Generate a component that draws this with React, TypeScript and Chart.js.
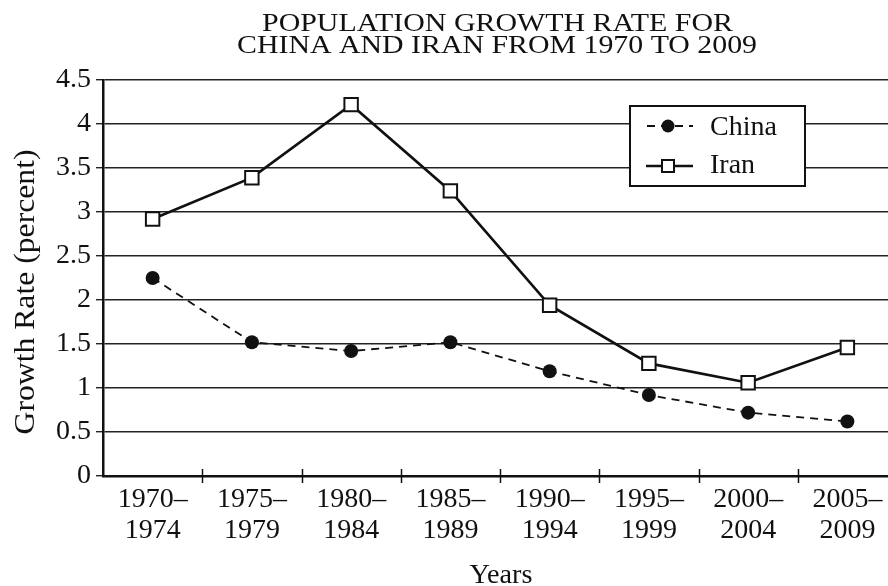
import React, { useEffect, useRef } from "react";
import { Chart, registerables } from "chart.js";

Chart.register(...registerables);

const TITLE_LINES = ["POPULATION GROWTH RATE FOR", "CHINA AND IRAN FROM 1970 TO 2009"];
const CATEGORIES = [
  ["1970–", "1974"],
  ["1975–", "1979"],
  ["1980–", "1984"],
  ["1985–", "1989"],
  ["1990–", "1994"],
  ["1995–", "1999"],
  ["2000–", "2004"],
  ["2005–", "2009"],
];
const SERIES_NAMES = ["China", "Iran"];
const CHINA = [2.25, 1.52, 1.42, 1.52, 1.19, 0.92, 0.72, 0.62];
const IRAN = [2.92, 3.39, 4.22, 3.24, 1.94, 1.28, 1.06, 1.46];
const Y_TICKS = ["0", "0.5", "1", "1.5", "2", "2.5", "3", "3.5", "4", "4.5"];
const Y_TITLE = "Growth Rate (percent)";
const X_TITLE = "Years";

const FONT = "'Liberation Serif', 'DejaVu Serif', serif";

function drawFitText(
  ctx: CanvasRenderingContext2D,
  text: string,
  x: number,
  y: number,
  size: number,
  width: number,
  rotate = 0
) {
  ctx.save();
  ctx.font = `${size}px ${FONT}`;
  ctx.fillStyle = "#111";
  ctx.textAlign = "center";
  ctx.textBaseline = "alphabetic";
  const w = ctx.measureText(text).width;
  ctx.translate(x, y);
  if (rotate) ctx.rotate(rotate);
  ctx.scale(width / w, 1);
  ctx.fillText(text, 0, 0);
  ctx.restore();
}

const decorPlugin = {
  id: "decor",
  afterDraw(chart: any) {
    const ctx: CanvasRenderingContext2D = chart.ctx;
    const { left, right, bottom } = chart.chartArea;
    // titles
    drawFitText(ctx, TITLE_LINES[0], 497.5, 31, 26, 471);
    drawFitText(ctx, TITLE_LINES[1], 497, 53, 26, 520);
    drawFitText(ctx, Y_TITLE, 34, 292, 29, 285, -Math.PI / 2);
    drawFitText(ctx, X_TITLE, 501, 583, 27, 63);

    // crossing tick marks on x axis
    ctx.save();
    ctx.strokeStyle = "#111";
    ctx.lineWidth = 1.5;
    const n = CATEGORIES.length;
    const step = (right - left) / n;
    for (let i = 1; i < n; i++) {
      const x = Math.round(left + i * step) + 0.5;
      ctx.beginPath();
      ctx.moveTo(x, bottom - 7);
      ctx.lineTo(x, bottom + 7);
      ctx.stroke();
    }
    ctx.restore();

    // legend box
    const bx = 630, by = 106, bw = 175, bh = 80;
    ctx.save();
    ctx.fillStyle = "#fff";
    ctx.fillRect(bx, by, bw, bh);
    ctx.strokeStyle = "#111";
    ctx.lineWidth = 2;
    ctx.strokeRect(bx, by, bw, bh);

    // China sample
    ctx.lineWidth = 1.8;
    ctx.setLineDash([8, 6]);
    ctx.beginPath();
    ctx.moveTo(647, 126);
    ctx.lineTo(693, 126);
    ctx.stroke();
    ctx.setLineDash([]);
    ctx.fillStyle = "#111";
    ctx.beginPath();
    ctx.arc(668, 126, 6.5, 0, Math.PI * 2);
    ctx.fill();

    // Iran sample
    ctx.lineWidth = 2.6;
    ctx.beginPath();
    ctx.moveTo(646, 166);
    ctx.lineTo(693, 166);
    ctx.stroke();
    ctx.fillStyle = "#fff";
    ctx.fillRect(662, 160, 12, 12);
    ctx.lineWidth = 2;
    ctx.strokeRect(662, 160, 12, 12);

    ctx.fillStyle = "#111";
    ctx.font = `28px ${FONT}`;
    ctx.textAlign = "left";
    ctx.textBaseline = "alphabetic";
    ctx.fillText(SERIES_NAMES[0], 710, 135);
    ctx.fillText(SERIES_NAMES[1], 710, 173);
    ctx.restore();
  },
};

export default function App() {
  const ref = useRef<HTMLCanvasElement>(null);

  useEffect(() => {
    if (!ref.current) return;
    const chart = new Chart(ref.current, {
      type: "line",
      data: {
        labels: CATEGORIES as any,
        datasets: [
          {
            label: SERIES_NAMES[0],
            data: CHINA,
            borderColor: "#111",
            borderWidth: 1.8,
            borderDash: [8, 6],
            pointStyle: "circle",
            pointRadius: 7,
            pointBackgroundColor: "#111",
            pointBorderColor: "#111",
            pointBorderWidth: 0,
            tension: 0,
          },
          {
            label: SERIES_NAMES[1],
            data: IRAN,
            borderColor: "#111",
            borderWidth: 2.7,
            pointStyle: "rect",
            pointRadius: 9.5,
            pointBackgroundColor: "#fff",
            pointBorderColor: "#111",
            pointBorderWidth: 2,
            tension: 0,
          },
        ],
      },
      options: {
        responsive: false,
        animation: false,
        events: [],
        layout: { autoPadding: false, padding: { top: 80, right: 3, left: 0, bottom: 0 } },
        plugins: {
          legend: { display: false },
          title: { display: false },
          tooltip: { enabled: false },
        },
        scales: {
          x: {
            type: "category",
            offset: true,
            grid: {
              display: true,
              drawOnChartArea: false,
              drawTicks: false,
              offset: true,
              color: "#111",
            },
            border: { display: true, color: "#111", width: 2.5 },
            ticks: {
              color: "#111",
              padding: 8,
              maxRotation: 0,
              autoSkip: false,
              font: { family: FONT, size: 28, lineHeight: 1.1 },
            },
            afterFit: (s: any) => {
              s.height = 110;
              s.paddingLeft = 0;
              s.paddingRight = 0;
            },
          },
          y: {
            min: 0,
            max: 4.5,
            ticks: {
              stepSize: 0.5,
              color: "#111",
              padding: 5,
              font: { family: FONT, size: 28 },
              callback: (_v: any, i: number) => Y_TICKS[i],
            },
            grid: {
              color: "#222",
              lineWidth: 1.4,
              drawTicks: true,
              tickLength: 7,
            },
            border: { display: true, color: "#111", width: 2.5 },
            afterFit: (s: any) => {
              s.width = 103;
            },
          },
        },
      },
      plugins: [decorPlugin],
    });
    return () => chart.destroy();
  }, []);

  return (
    <div
      style={{
        position: "fixed",
        left: 0,
        top: 0,
        width: 888,
        height: 586,
        overflow: "hidden",
        background: "#fff",
      }}
    >
      <canvas ref={ref} width={900} height={586} style={{ display: "block", width: 900, height: 586 }} />
    </div>
  );
}
